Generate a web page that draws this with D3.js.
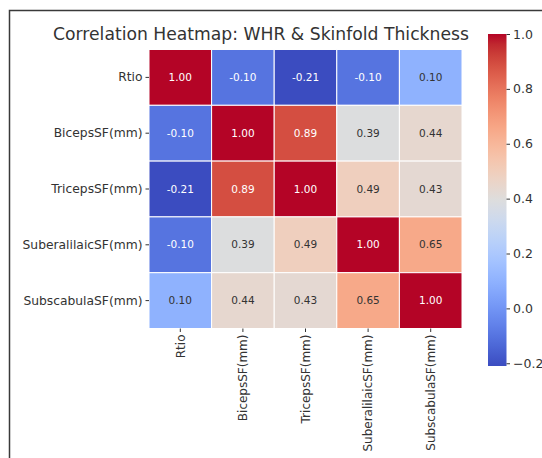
<!DOCTYPE html>
<html>
<head>
<meta charset="utf-8">
<script src="https://cdn.jsdelivr.net/npm/d3@7"></script>
<style>
  html, body { margin: 0; padding: 0; background: #fff; }
  svg { display: block; font-family: "DejaVu Sans", sans-serif; }
</style>
</head>
<body>
<svg id="chart" width="542" height="458"></svg>
<script>
// Данные корреляционной матрицы
const labels = ['Rtio', 'BicepsSF(mm)', 'TricepsSF(mm)', 'SuberalilaicSF(mm)', 'SubscabulaSF(mm)'];
const rowRtio = [1.00, -0.10, -0.21, -0.10, 0.10];
const rowBiceps = [-0.10, 1.00, 0.89, 0.39, 0.44];
const rowTriceps = [-0.21, 0.89, 1.00, 0.49, 0.43];
const rowSuberalilaic = [-0.10, 0.39, 0.49, 1.00, 0.65];
const rowSubscabula = [0.10, 0.44, 0.43, 0.65, 1.00];
const matrix = [rowRtio, rowBiceps, rowTriceps, rowSuberalilaic, rowSubscabula];
const colorbarTicks = [-0.2, 0.0, 0.2, 0.4, 0.6, 0.8, 1.0];
const chartTitle = 'Correlation Heatmap: WHR & Skinfold Thickness';

// Палитра coolwarm (Moreland)
const coolwarm = [
  [59,76,192],[68,90,204],[77,104,215],[87,117,225],[98,130,234],[108,142,241],
  [119,154,247],[130,165,251],[141,176,254],[152,185,255],[163,194,255],[174,201,253],
  [184,208,249],[194,213,244],[204,217,238],[213,219,230],[221,221,221],[229,216,209],
  [236,211,197],[241,204,184],[245,196,172],[247,187,159],[247,177,147],[247,166,134],
  [244,154,123],[241,141,111],[236,127,99],[229,112,89],[222,96,77],[213,80,66],
  [203,62,56],[192,40,47],[180,4,38]
].map(c => d3.rgb(c[0], c[1], c[2]).toString());

const vmin = d3.min(matrix.flat());
const vmax = d3.max(matrix.flat());
const interp = d3.piecewise(d3.interpolateRgb, coolwarm);
const color = d3.scaleSequential(interp).domain([vmin, vmax]);

function luminance(c) {
  const rgb = d3.rgb(c);
  const lin = v => { v /= 255; return v <= 0.03928 ? v / 12.92 : Math.pow((v + 0.055) / 1.055, 2.4); };
  return 0.2126 * lin(rgb.r) + 0.7152 * lin(rgb.g) + 0.0722 * lin(rgb.b);
}

const svg = d3.select('#chart');

// Рамка
svg.append('rect')
  .attr('x', 9.5).attr('y', 10.5)
  .attr('width', 545).attr('height', 460)
  .attr('fill', '#fff')
  .attr('stroke', '#3a3a3a')
  .attr('stroke-width', 1.5);

const hmLeft = 149, hmTop = 49.5, cellW = 62.6, cellH = 55.8;

const x = d3.scaleBand().domain(labels).range([hmLeft, hmLeft + cellW * labels.length]);
const y = d3.scaleBand().domain(labels).range([hmTop, hmTop + cellH * labels.length]);

// Заголовок
svg.append('text')
  .attr('x', 261).attr('y', 40)
  .attr('text-anchor', 'middle')
  .attr('font-size', '17.2px')
  .attr('fill', '#333')
  .text(chartTitle);

// Ячейки
const cells = svg.append('g');
matrix.forEach((row, i) => {
  row.forEach((v, j) => {
    const c = color(v);
    cells.append('rect')
      .attr('x', x(labels[j])).attr('y', y(labels[i]))
      .attr('width', x.bandwidth()).attr('height', y.bandwidth())
      .attr('fill', c)
      .attr('stroke', '#fff')
      .attr('stroke-width', 1);
    cells.append('text')
      .attr('x', x(labels[j]) + x.bandwidth() / 2)
      .attr('y', y(labels[i]) + y.bandwidth() / 2)
      .attr('dy', '0.35em')
      .attr('text-anchor', 'middle')
      .attr('font-size', '10.5px')
      .attr('fill', luminance(c) > 0.408 ? '#333' : '#fff')
      .text(v.toFixed(2));
  });
});

// Оси
const yAxis = svg.append('g')
  .attr('transform', `translate(${hmLeft},0)`)
  .call(d3.axisLeft(y).tickSize(3.5).tickPadding(3));
yAxis.select('.domain').remove();
yAxis.selectAll('text').attr('font-size', '12.3px').attr('fill', '#333').attr('font-family', 'DejaVu Sans');
yAxis.selectAll('line').attr('stroke', '#333');

const xAxis = svg.append('g')
  .attr('transform', `translate(0,${hmTop + cellH * labels.length})`)
  .call(d3.axisBottom(x).tickSize(3.5).tickPadding(3));
xAxis.select('.domain').remove();
xAxis.selectAll('line').attr('stroke', '#333');
xAxis.selectAll('text')
  .attr('font-size', '12px').attr('fill', '#333').attr('font-family', 'DejaVu Sans')
  .attr('transform', 'rotate(-90)')
  .attr('text-anchor', 'end')
  .attr('x', -6).attr('y', 0).attr('dy', '0.35em');

// Цветовая шкала
const cbX = 488, cbW = 18.5;
const cbScale = d3.scaleLinear().domain([vmin, vmax]).range([366, 34]);
const defs = svg.append('defs');
const grad = defs.append('linearGradient')
  .attr('id', 'cbgrad')
  .attr('x1', 0).attr('y1', 1).attr('x2', 0).attr('y2', 0);
coolwarm.forEach((c, i) => {
  grad.append('stop').attr('offset', i / (coolwarm.length - 1)).attr('stop-color', c);
});
svg.append('rect')
  .attr('x', cbX).attr('y', cbScale(vmax))
  .attr('width', cbW).attr('height', cbScale(vmin) - cbScale(vmax))
  .attr('fill', 'url(#cbgrad)');

const cbAxis = svg.append('g')
  .attr('transform', `translate(${cbX + cbW},0)`)
  .call(d3.axisRight(cbScale).tickValues(colorbarTicks).tickSize(3.5).tickPadding(3)
    .tickFormat(d => d3.format('.1f')(d).replace('-', '\u2212')));
cbAxis.select('.domain').remove();
cbAxis.selectAll('line').attr('stroke', '#333');
cbAxis.selectAll('text').attr('font-size', '12.5px').attr('fill', '#333').attr('font-family', 'DejaVu Sans');
</script>
</body>
</html>
